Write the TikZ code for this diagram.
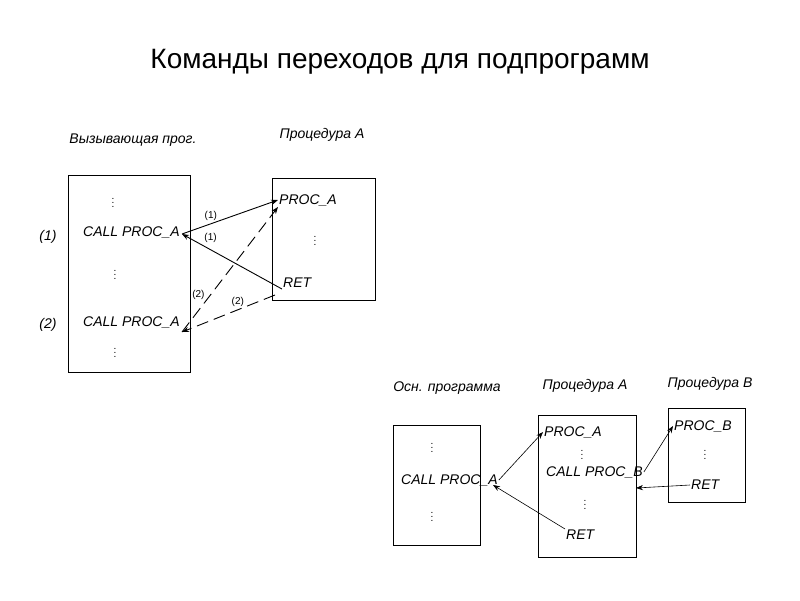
\documentclass[tikz,border=0pt]{standalone}
\usepackage{fontspec}
\setmainfont{Liberation Sans}
\usetikzlibrary{arrows.meta}
\begin{document}
\begin{tikzpicture}[x=1pt,y=-1pt,
 box/.style={draw,line width=1pt},
 t/.style={font=\fontsize{14}{14}\selectfont\itshape,inner sep=1pt},
 vd/.style={font=\fontsize{10}{10}\selectfont,inner sep=0pt},
 lbl/.style={font=\fontsize{10}{10}\selectfont,inner sep=1pt},
 con/.style={line width=0.9pt,-{Stealth[length=7pt]}},
 dcon/.style={con,dashed,dash pattern=on 12pt off 6pt}]
\useasboundingbox (0,0) rectangle (800,600);
\node (title) at (400,62) {\fontsize{28}{28}\selectfont Команды переходов для подпрограмм};
% left
\node[t] (h1) at (133,140) {Вызывающая прог.};
\node[t] (h2) at (322,135) {Процедура А};
\draw[box] (68,175) rectangle (190,372);
\draw[box] (272,178) rectangle (375,300);
\node[vd] (d1) at (113,200) {$\vdots$};
\node[t,anchor=west] (c1) at (82,232) {CALL PROC\_A};
\node[vd] (d2) at (115,272) {$\vdots$};
\node[t,anchor=west] (c2) at (82,322) {CALL PROC\_A};
\node[vd] (d3) at (115,350) {$\vdots$};
\node[t] (n1) at (48,237) {(1)};
\node[t] (n2) at (48,325) {(2)};
\node[t,anchor=west] (pa) at (278,200) {PROC\_A};
\node[vd] (d4) at (315,238) {$\vdots$};
\node[t,anchor=west] (ret) at (282,283) {RET};
\coordinate (c1e) at (182,234);
\coordinate (c2e) at (182,332);
\coordinate (rb) at (275,295);
\draw[con] (c1e) -- (pa.west) node[lbl,pos=0.3,above=2pt] {(1)};
\draw[con] (ret.south west) -- (c1e) node[lbl,pos=0.8,above right=1pt] {(1)};
\draw[dcon] (c2e) -- (pa.south west) node[lbl,pos=0.25,above left=0pt] {(2)};
\draw[dcon] (rb) -- (c2e) node[lbl,pos=0.4,above=2pt] {(2)};
% right
\node[t] (h3) at (447,388) {Осн. программа};
\node[t] (h4) at (585,386) {Процедура А};
\node[t] (h5) at (710,384) {Процедура В};
\draw[box] (393,425) rectangle (480,545);
\draw[box] (538,415) rectangle (636,557);
\draw[box] (668,408) rectangle (745,502);
\node[vd] (e1) at (432,445) {$\vdots$};
\node[t,anchor=west] (cc) at (400,480) {CALL PROC\_A};
\node[vd] (e2) at (432,514) {$\vdots$};
\node[t,anchor=west] (pa2) at (543,432) {PROC\_A};
\node[vd] (e3) at (582,452) {$\vdots$};
\node[t,anchor=west] (cb) at (545,472) {CALL PROC\_B};
\node[vd] (e4) at (585,502) {$\vdots$};
\node[t,anchor=west] (ret2) at (565,535) {RET};
\node[t,anchor=west] (pb) at (673,426) {PROC\_B};
\node[vd] (e5) at (705,452) {$\vdots$};
\node[t,anchor=west] (ret3) at (690,485) {RET};
\draw[con,line width=0.6pt] (cc.east) -- (pa2.west);
\draw[con,line width=0.6pt] (ret2.north west) -- (493,485);
\draw[con,line width=0.6pt] (cb.east) -- (pb.west);
\draw[con,line width=0.6pt] (ret3.west) -- (636,488);
\end{tikzpicture}
\end{document}
